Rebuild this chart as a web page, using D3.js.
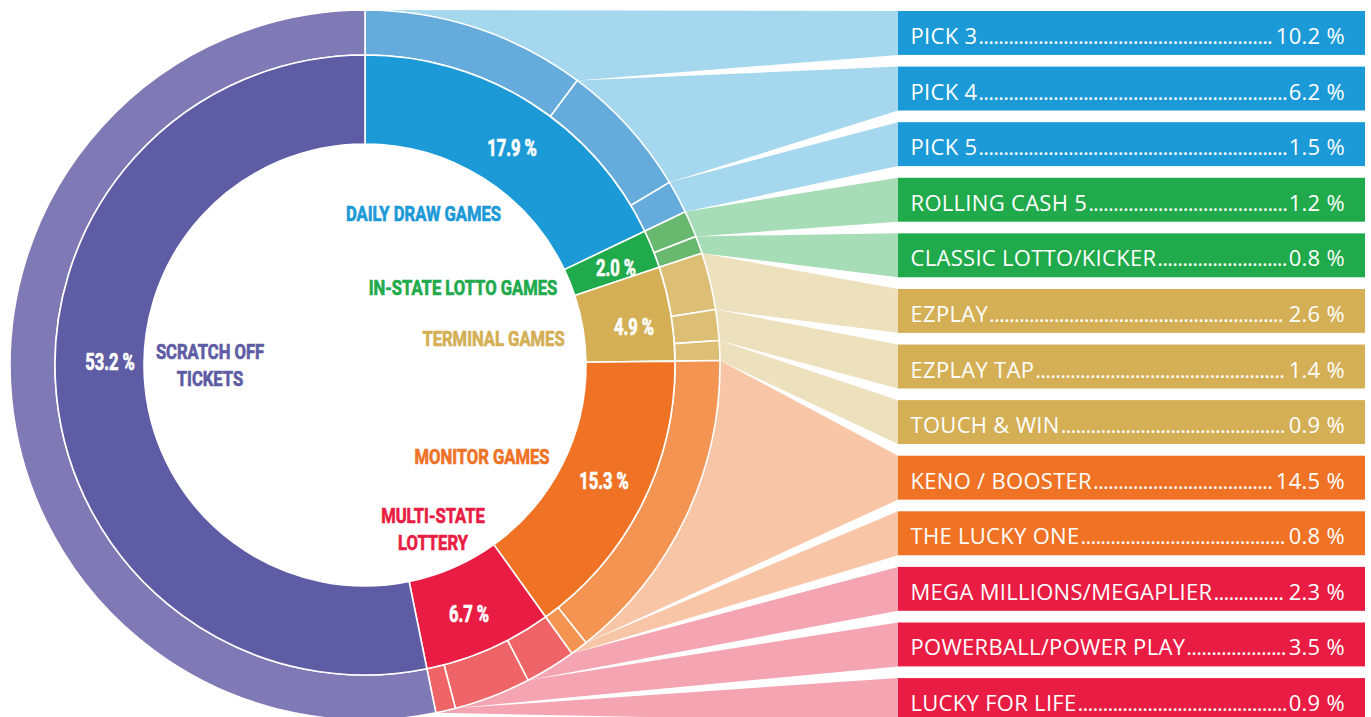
<!DOCTYPE html>
<html><head><meta charset="utf-8">
<script src="https://cdn.jsdelivr.net/npm/d3@7"></script>
<style>body{margin:0;background:#fff;overflow:hidden} svg{display:block}</style>
</head><body><svg id="c" width="1371" height="717"></svg>
<script>
// ---- data ----
const categories = ["DAILY DRAW GAMES","IN-STATE LOTTO GAMES","TERMINAL GAMES","MONITOR GAMES","MULTI-STATE LOTTERY","SCRATCH OFF TICKETS"];
const categoryValues = [17.9, 2.0, 4.9, 15.3, 6.7, 53.2];
const items = ["PICK 3","PICK 4","PICK 5","ROLLING CASH 5","CLASSIC LOTTO/KICKER","EZPLAY","EZPLAY TAP","TOUCH & WIN","KENO / BOOSTER","THE LUCKY ONE","MEGA MILLIONS/MEGAPLIER","POWERBALL/POWER PLAY","LUCKY FOR LIFE"];
const itemValues = [10.2, 6.2, 1.5, 1.2, 0.8, 2.6, 1.4, 0.9, 14.5, 0.8, 2.3, 3.5, 0.9];
const itemCategory = [0,0,0,1,1,2,2,2,3,3,4,4,4];

// ---- styles ----
const innerColors = ["#1b9ad7","#20aa4b","#d4af55","#ef7225","#e91c43","#5d5ca4"];
const outerColors = ["#65acdd","#69b870","#dcbf74","#f39453","#ef6466","#7f79b6"];
const bandColors  = ["#a5d8ef","#a6ddb6","#ede0bd","#f8c6a7","#f5a4b2","#ffffff"];

const cx = 365, cy = 365, rHole = 221, rMid = 310, rOut = 355;
const boxX0 = 898, boxX1 = 1365;
const svg = d3.select("#c");
const fmt = d => d3.format(".1f")(d) + " %";

const pie = d3.pie().sort(null).value(d => d.v).startAngle(0).endAngle(2*Math.PI);
const inner = pie(categories.map((c,i)=>({c, v:categoryValues[i], i})));
const outer = pie(items.map((n,i)=>({n, v:itemValues[i], cat:itemCategory[i]}))
  .concat([{n:null, v:categoryValues[5], cat:5}]));

const y = d3.scaleBand().domain(items).range([11, 722]).paddingInner(0.21).paddingOuter(0);
const pt = (a,r) => [cx + r*Math.sin(a), cy - r*Math.cos(a)];

// bands
svg.append("g").selectAll("path").data(outer.filter(d=>d.data.n)).join("path")
  .attr("fill", d => bandColors[d.data.cat])
  .attr("d", d => {
    const a = pt(d.startAngle, rOut), b = pt(d.endAngle, rOut);
    const t = y(d.data.n), bt = t + y.bandwidth();
    return `M${a[0]},${a[1]}L${boxX0},${t}L${boxX0},${bt}L${b[0]},${b[1]}Z`;
  });

// rings
const arcIn = d3.arc().innerRadius(rHole).outerRadius(rMid);
const arcOut = d3.arc().innerRadius(rMid).outerRadius(rOut);
const ring = svg.append("g").attr("transform", `translate(${cx},${cy})`);
ring.selectAll("path.o").data(outer).join("path").attr("class","o")
  .attr("d", arcOut).attr("fill", d => outerColors[d.data.cat])
  .attr("stroke","#fff").attr("stroke-width",1.6);
ring.selectAll("path.i").data(inner).join("path").attr("class","i")
  .attr("d", arcIn).attr("fill", d => innerColors[d.data.i])
  .attr("stroke","#fff").attr("stroke-width",1.6);

// condensed text helper
function condense(sel, f){
  sel.each(function(){ const L = this.getComputedTextLength();
    d3.select(this).attr("textLength", L*f).attr("lengthAdjust","spacingAndGlyphs"); });
}

// percent labels (layout positions)
const pctPos = [[512,156],[616,276],[634,335],[604,489],[469,622],[110,370]];
const pct = svg.append("g").selectAll("text").data(inner).join("text")
  .attr("x", (d,i)=>pctPos[i][0]).attr("y",(d,i)=>pctPos[i][1])
  .attr("text-anchor","middle").attr("fill","#fff").attr("stroke","#fff").attr("stroke-width",0.7)
  .style("font-family","Roboto, 'DejaVu Sans', sans-serif").style("font-weight",700).style("font-size","23px")
  .text(d => fmt(d.data.v));
condense(pct, 0.72);

// category labels
const catLayout = [
  {x:423.5, ys:[221]}, {x:463, ys:[295]}, {x:493.5, ys:[346]}, {x:482, ys:[464]},
  {x:433, ys:[523,550], split:["MULTI-STATE","LOTTERY"]},
  {x:210, ys:[359,386], split:["SCRATCH OFF","TICKETS"]}
];
const catG = svg.append("g");
categories.forEach((c,i)=>{
  const lay = catLayout[i];
  const lines = lay.split || [c];
  lines.forEach((ln,k)=>{
    catG.append("text").attr("x",lay.x).attr("y",lay.ys[k]).attr("text-anchor","middle")
      .attr("fill", innerColors[i]).attr("stroke", innerColors[i]).attr("stroke-width",0.7)
      .style("font-family","Roboto, 'DejaVu Sans', sans-serif").style("font-weight",700).style("font-size","21px")
      .text(ln);
  });
});
condense(catG.selectAll("text"), 0.79);

// legend boxes
const rows = svg.append("g").selectAll("g").data(items.map((n,i)=>({n, v:itemValues[i], cat:itemCategory[i]}))).join("g")
  .attr("transform", d => `translate(0,${y(d.n)})`);
rows.append("rect").attr("x", boxX0).attr("width", boxX1-boxX0).attr("height", y.bandwidth())
  .attr("fill", d => innerColors[d.cat]);
const tstyle = s => s.style("font-family","'Open Sans', Lato, sans-serif").style("font-size","22px")
  .style("letter-spacing","0.3px").attr("fill","#fff");
rows.append("text").attr("class","lab").attr("x", boxX0+12.5).attr("y", 33).call(tstyle).text(d=>d.n);
rows.append("text").attr("class","val").attr("x", 1345).attr("y", 33).attr("text-anchor","end").call(tstyle).text(d=>fmt(d.v));
rows.each(function(){
  const g = d3.select(this);
  const lab = g.select(".lab").node(), val = g.select(".val").node();
  const labEnd = boxX0 + 12.5 + lab.getComputedTextLength();
  const valStart = 1345 - val.getComputedTextLength();
  const probe = g.append("text").call(tstyle).style("letter-spacing","-0.8px").text("..........");
  const dw = probe.node().getComputedTextLength()/10; probe.remove();
  const n = Math.max(0, Math.floor((valStart - 1 - (labEnd + 1))/dw));
  g.append("text").attr("x", labEnd + 1).attr("y", 33).call(tstyle).style("letter-spacing","-0.8px").text(".".repeat(n));
});
</script></body></html>
